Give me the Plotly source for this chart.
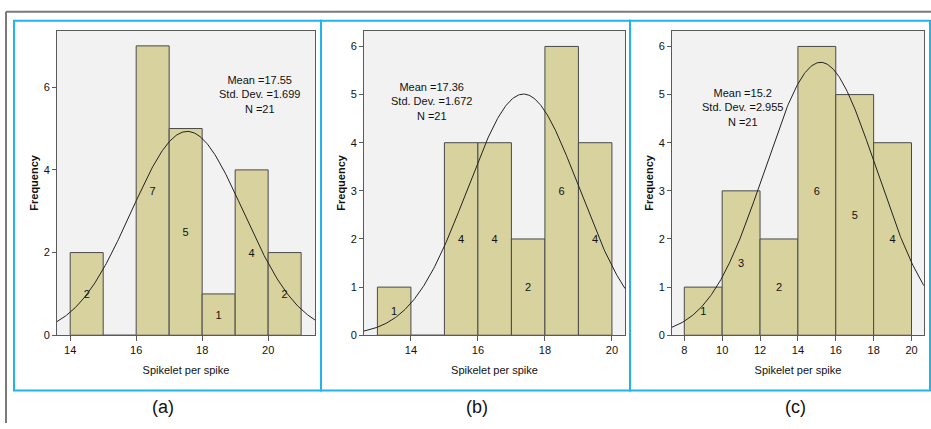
import numpy as np
import plotly.graph_objects as go

W, H = 931, 429

# ---------------- data ----------------
a_edges = [14, 15, 16, 17, 18, 19, 20, 21]
a_counts = [2, 0, 7, 5, 1, 4, 2]
a_stats = {"mean": 17.55, "sd": 1.699, "n": 21}
a_xticks = [14, 16, 18, 20]
a_yticks = [0, 2, 4, 6]

b_edges = [13, 14, 15, 16, 17, 18, 19, 20]
b_counts = [1, 0, 4, 4, 2, 6, 4]
b_stats = {"mean": 17.36, "sd": 1.672, "n": 21}
b_xticks = [14, 16, 18, 20]
b_yticks = [0, 1, 2, 3, 4, 5, 6]

c_edges = [8, 10, 12, 14, 16, 18, 20]
c_counts = [1, 3, 2, 6, 5, 4]
c_stats = {"mean": 15.2, "sd": 2.955, "n": 21}
c_xticks = [8, 10, 12, 14, 16, 18, 20]
c_yticks = [0, 1, 2, 3, 4, 5, 6]

panel_labels = ["(a)", "(b)", "(c)"]
x_title = "Spikelet per spike"
y_title = "Frequency"

# ---------------- layout helpers ----------------
def px(x):
    return x / W

def py(y):
    return 1 - y / H

BAR = "#d7d29e"
EDGE = "#4a4a4a"
FRAME = "#5a5a5a"
BLUE = "#1eb4ec"
FONT = "Liberation Sans, Arial, sans-serif"
TXT = "#111111"

panels = [
    dict(edges=a_edges, counts=a_counts, st=a_stats, xt=a_xticks, yt=a_yticks,
         xr=[13.6, 21.42], yr=[0, 7.37], dom=(57, 315), ann=(259, 96), frame=(14, 321), lab=163),
    dict(edges=b_edges, counts=b_counts, st=b_stats, xt=b_xticks, yt=b_yticks,
         xr=[12.6, 20.39], yr=[0, 6.33], dom=(364, 625), ann=(431, 103), frame=(321, 630), lab=477),
    dict(edges=c_edges, counts=c_counts, st=c_stats, xt=c_xticks, yt=c_yticks,
         xr=[7.35, 20.66], yr=[0, 6.33], dom=(672, 924), ann=(742, 109), frame=(630, 930), lab=795),
]

fig = go.Figure()
layout = dict(
    width=W, height=H, autosize=False, margin=dict(l=0, r=0, t=0, b=0),
    paper_bgcolor="white", plot_bgcolor="#f2f2f2",
    showlegend=False, font=dict(family=FONT, color=TXT),
    shapes=[], annotations=[],
)

for i, p in enumerate(panels):
    k = "" if i == 0 else str(i + 1)
    xa, ya = "x" + k, "y" + k
    edges = np.array(p["edges"], dtype=float)
    counts = np.array(p["counts"], dtype=float)
    centers = (edges[:-1] + edges[1:]) / 2
    widths = np.diff(edges)
    fig.add_trace(go.Bar(
        x=centers, y=counts, width=widths,
        marker=dict(color=BAR, line=dict(color=EDGE, width=1)),
        text=[str(int(c)) if c > 0 else "" for c in counts],
        textposition="inside", insidetextanchor="middle", textangle=0,
        textfont=dict(size=11, color=TXT, family=FONT),
        xaxis=xa, yaxis=ya, hoverinfo="skip",
    ))
    st = p["st"]
    bw = widths[0]
    xs = np.linspace(p["xr"][0], p["xr"][1], 300)
    ys = st["n"] * bw / (st["sd"] * np.sqrt(2 * np.pi)) * np.exp(-0.5 * ((xs - st["mean"]) / st["sd"]) ** 2)
    fig.add_trace(go.Scatter(x=xs, y=ys, mode="lines", line=dict(color="#222", width=1),
                             xaxis=xa, yaxis=ya, hoverinfo="skip"))

    layout["xaxis" + k] = dict(
        domain=[px(p["dom"][0]), px(p["dom"][1])], range=p["xr"], anchor=ya,
        tickvals=p["xt"], ticks="outside", ticklen=5, tickcolor=FRAME,
        showline=True, mirror=True, linecolor=FRAME, linewidth=1, showgrid=False, zeroline=False,
        tickfont=dict(size=11, family=FONT, color=TXT),
        title=dict(text=x_title, font=dict(size=11, family=FONT, color=TXT), standoff=10),
        fixedrange=True,
    )
    layout["yaxis" + k] = dict(
        domain=[py(340), py(31)], range=p["yr"], anchor=xa,
        tickvals=p["yt"], ticks="outside", ticklen=4, tickcolor=FRAME,
        showline=True, mirror=True, linecolor=FRAME, linewidth=1, showgrid=False, zeroline=False,
        tickfont=dict(size=11, family=FONT, color=TXT),
        title=dict(text="<b>" + y_title + "</b>", font=dict(size=11, family=FONT, color=TXT), standoff=2),
        fixedrange=True,
    )
    ax, ay = p["ann"]
    layout["annotations"].append(dict(
        xref="paper", yref="paper", x=px(ax), y=py(ay), xanchor="center", yanchor="middle",
        text="Mean =%s<br>Std. Dev. =%s<br>N =%d" % (st["mean"], "%.3f" % st["sd"], st["n"]),
        showarrow=False, align="center", font=dict(size=11, family=FONT, color=TXT),
    ))
    layout["annotations"].append(dict(
        xref="paper", yref="paper", x=px(p["lab"]), y=py(413), xanchor="center", yanchor="middle",
        text=panel_labels[i], showarrow=False,
        font=dict(size=18, family=FONT, color=TXT),
    ))
    f0, f1 = p["frame"]
    layout["shapes"].append(dict(type="rect", xref="paper", yref="paper",
                                 x0=px(f0), x1=px(f1), y0=py(396), y1=py(21),
                                 line=dict(color=BLUE, width=2), fillcolor="rgba(0,0,0,0)", layer="above"))

# outer gray frame
layout["shapes"].append(dict(type="line", xref="paper", yref="paper",
                             x0=px(6), x1=px(931), y0=py(12), y1=py(12),
                             line=dict(color="#7a7a7a", width=2)))
layout["shapes"].append(dict(type="line", xref="paper", yref="paper",
                             x0=px(6), x1=px(6), y0=py(12), y1=py(429),
                             line=dict(color="#7a7a7a", width=2)))

fig.update_layout(**layout)
fig.write_html("out.html",
               config={"displayModeBar": False, "responsive": False},
               post_script="document.body.style.margin='0';document.body.style.overflow='hidden';")
